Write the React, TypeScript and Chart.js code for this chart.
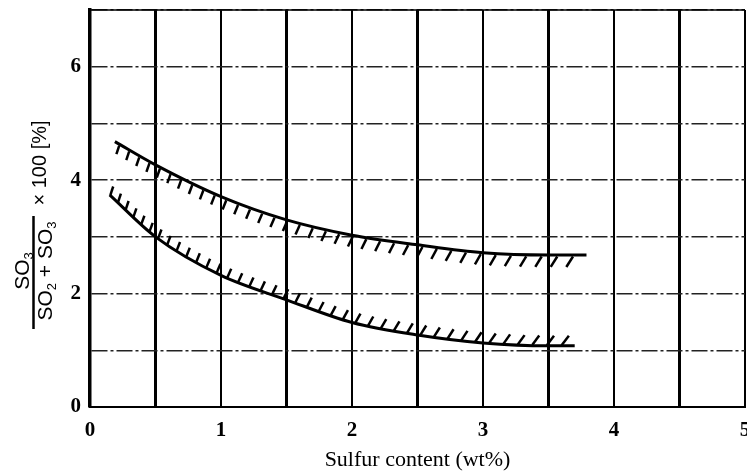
import React, { useEffect, useRef } from 'react';
import { Chart, registerables } from 'chart.js';

Chart.register(...registerables);

// ---- data ----
const xTickLabels = [0, 1, 2, 3, 4, 5];
const yTickLabels = [0, 2, 4, 6];
const upperX = [0.19, 0.5, 1.0, 1.5, 2.0, 2.5, 3.0, 3.5, 3.79];
const upperY = [4.68, 4.27, 3.71, 3.30, 3.03, 2.86, 2.72, 2.68, 2.68];
const lowerX = [0.15, 0.5, 1.0, 1.5, 2.0, 2.5, 3.0, 3.5, 3.7];
const lowerY = [3.74, 3.0, 2.32, 1.89, 1.49, 1.27, 1.13, 1.08, 1.08];
const xTitle = 'Sulfur content (wt%)';
const yNumerator = 'SO₃';
const yDenominator = 'SO₂ + SO₃';
const yFactor = '× 100 [%]';

const SUB: Record<string, string> = { '₂': '2', '₃': '3' };

function drawRich(ctx: CanvasRenderingContext2D, text: string, lx: number, ly: number, size: number, family: string) {
  const runs: { t: string; sub: boolean }[] = [];
  for (const ch of text) {
    const sub = ch in SUB;
    const c = sub ? SUB[ch] : ch;
    const last = runs[runs.length - 1];
    if (last && last.sub === sub) last.t += c;
    else runs.push({ t: c, sub });
  }
  const subSize = Math.round(size * 0.62);
  let total = 0;
  const widths = runs.map((r) => {
    ctx.font = `${r.sub ? subSize : size}px ${family}`;
    const w = ctx.measureText(r.t).width;
    total += w;
    return w;
  });
  let x = lx - total / 2;
  ctx.textAlign = 'left';
  ctx.textBaseline = 'middle';
  runs.forEach((r, i) => {
    ctx.font = `${r.sub ? subSize : size}px ${family}`;
    ctx.fillText(r.t, x, r.sub ? ly + size * 0.32 : ly);
    x += widths[i];
  });
}

const yTitlePlugin = {
  id: 'yTitle',
  afterDraw(chart: any) {
    const ctx: CanvasRenderingContext2D = chart.ctx;
    const fam = '"Liberation Sans", Arial, sans-serif';
    ctx.save();
    ctx.fillStyle = '#000';
    ctx.strokeStyle = '#000';
    ctx.rotate(-Math.PI / 2);
    const cy = 271;
    drawRich(ctx, yNumerator, -cy, 23, 21, fam);
    drawRich(ctx, yDenominator, -cy, 46, 21, fam);
    drawRich(ctx, yFactor, -163, 40, 20, fam);
    ctx.lineWidth = 2.5;
    ctx.beginPath();
    ctx.moveTo(-329, 33.5);
    ctx.lineTo(-216, 33.5);
    ctx.stroke();
    ctx.restore();

    const a = chart.chartArea;
    ctx.save();
    ctx.strokeStyle = '#000';
    ctx.lineWidth = 1.5;
    ctx.beginPath();
    ctx.moveTo(a.left, a.top);
    ctx.lineTo(a.right, a.top);
    ctx.stroke();
    ctx.restore();
  },
};

type HatchCfg = { side: 'above' | 'below'; sp0: number; sp1: number; a0: number; a1: number; l0: number; l1: number; s0: number; s1: number };
const hatchCfgs: HatchCfg[] = [
  { side: 'below', sp0: 11.5, sp1: 16, a0: 18, a1: 33, l0: 9, l1: 12.5, s0: 5, s1: 3 },
  { side: 'above', sp0: 10.5, sp1: 15, a0: 18, a1: 38, l0: 9, l1: 12, s0: 1, s1: 4 },
];

function sampleCurve(pts: any[]) {
  const out: { x: number; y: number }[] = [];
  for (let i = 0; i < pts.length - 1; i++) {
    const a = pts[i];
    const b = pts[i + 1];
    const c1x = a.cp2x ?? a.x, c1y = a.cp2y ?? a.y;
    const c2x = b.cp1x ?? b.x, c2y = b.cp1y ?? b.y;
    const N = 40;
    for (let k = i === 0 ? 0 : 1; k <= N; k++) {
      const t = k / N, m = 1 - t;
      out.push({
        x: m * m * m * a.x + 3 * m * m * t * c1x + 3 * m * t * t * c2x + t * t * t * b.x,
        y: m * m * m * a.y + 3 * m * m * t * c1y + 3 * m * t * t * c2y + t * t * t * b.y,
      });
    }
  }
  return out;
}

const hatchPlugin = {
  id: 'hatch',
  afterDatasetsDraw(chart: any) {
    const ctx: CanvasRenderingContext2D = chart.ctx;
    ctx.save();
    ctx.strokeStyle = '#000';
    ctx.lineWidth = 2.5;
    ctx.lineCap = 'butt';
    chart.data.datasets.forEach((_: any, di: number) => {
      const cfg = hatchCfgs[di];
      const meta = chart.getDatasetMeta(di);
      const poly = sampleCurve(meta.data);
      const cum = [0];
      for (let i = 1; i < poly.length; i++) {
        cum.push(cum[i - 1] + Math.hypot(poly[i].x - poly[i - 1].x, poly[i].y - poly[i - 1].y));
      }
      const total = cum[cum.length - 1];
      let s = cfg.s0;
      let j = 0;
      while (s <= total - cfg.s1) {
        while (j < cum.length - 2 && cum[j + 1] < s) j++;
        const f = (s - cum[j]) / (cum[j + 1] - cum[j] || 1);
        const px = poly[j].x + f * (poly[j + 1].x - poly[j].x);
        const py = poly[j].y + f * (poly[j + 1].y - poly[j].y);
        const t = s / total;
        const ang = ((cfg.a0 + (cfg.a1 - cfg.a0) * t) * Math.PI) / 180;
        const len = cfg.l0 + (cfg.l1 - cfg.l0) * t;
        ctx.beginPath();
        if (cfg.side === 'below') {
          const sx = px, sy = py + 1.5;
          ctx.moveTo(sx, sy);
          ctx.lineTo(sx - Math.sin(ang) * len, sy + Math.cos(ang) * len);
        } else {
          const sx = px, sy = py - 0.5;
          ctx.moveTo(sx, sy);
          ctx.lineTo(sx + Math.sin(ang) * len, sy - Math.cos(ang) * len);
        }
        ctx.stroke();
        s += cfg.sp0 + (cfg.sp1 - cfg.sp0) * t;
      }
    });
    ctx.restore();
  },
};

export default function App() {
  const ref = useRef<HTMLCanvasElement>(null);
  useEffect(() => {
    const upper = upperX.map((x, i) => ({ x, y: upperY[i] }));
    const lower = lowerX.map((x, i) => ({ x, y: lowerY[i] }));
    const lineDs = (data: any[]) => ({
      data,
      showLine: true,
      borderColor: '#000',
      borderWidth: 3,
      pointRadius: 0,
      cubicInterpolationMode: 'monotone' as const,
      fill: false,
    });
    const chart = new Chart(ref.current!, {
      type: 'scatter',
      data: { datasets: [lineDs(upper), lineDs(lower)] },
      plugins: [hatchPlugin, yTitlePlugin],
      options: {
        animation: false,
        responsive: false,
        devicePixelRatio: 1,
        layout: { padding: { left: 0, right: 2, top: 10, bottom: 0 } },
        plugins: { legend: { display: false }, tooltip: { enabled: false } },
        scales: {
          x: {
            type: 'linear',
            min: 0,
            max: 5,
            afterFit(scale: any) {
              scale.height = 64;
              scale.paddingLeft = 0;
              scale.paddingRight = 0;
            },
            ticks: {
              stepSize: 0.5,
              autoSkip: false,
              maxRotation: 0,
              padding: 11,
              color: '#000',
              font: { family: '"Liberation Serif", "Times New Roman", serif', size: 21, weight: 'bold' },
              callback: (v: any) => (xTickLabels.includes(Number(v)) ? String(v) : ''),
            },
            grid: {
              color: '#000',
              drawTicks: false,
              lineWidth: (c: any) => (c.tick && Math.abs(c.tick.value % 1) > 0.01 ? 3 : 2),
            },
            border: { display: true, color: '#000', width: 2 },
            title: {
              display: true,
              text: xTitle,
              color: '#000',
              padding: { top: 0, bottom: 0 },
              font: { family: '"Liberation Serif", "Times New Roman", serif', size: 22, lineHeight: 1 },
            },
          },
          y: {
            type: 'linear',
            min: 0,
            max: 7,
            afterFit(scale: any) {
              scale.width = 90;
              scale.paddingTop = 0;
              scale.paddingBottom = 0;
            },
            ticks: {
              stepSize: 1,
              autoSkip: false,
              padding: 9,
              color: '#000',
              font: { family: '"Liberation Serif", "Times New Roman", serif', size: 21, weight: 'bold' },
              callback: (v: any) => (yTickLabels.includes(Number(v)) ? String(v) : ''),
            },
            grid: { color: '#222', lineWidth: 1.5, drawTicks: false },
            border: { display: true, color: '#000', width: 3.5, dash: [16, 3, 3, 3] },
          },
        },
      },
    } as any);
    return () => chart.destroy();
  }, []);
  return (
    <div style={{ position: 'absolute', left: 0, top: 0, width: 747, height: 471, background: '#fff' }}>
      <canvas ref={ref} width={747} height={471} style={{ display: 'block', width: 747, height: 471 }} />
    </div>
  );
}
